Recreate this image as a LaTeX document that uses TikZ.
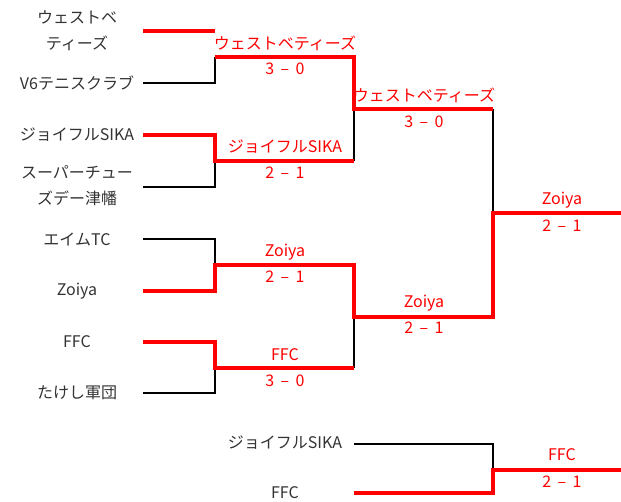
\documentclass[tikz,border=0pt]{standalone}
\usepackage{fontspec}
\newfontfamily\jp{Noto Sans CJK JP}
\definecolor{txt}{HTML}{333333}
\definecolor{win}{HTML}{FF0000}
\newcommand{\scr}[2]{#1\hspace{0.4em}–\hspace{0.4em}#2}
\begin{document}
\begin{tikzpicture}[x=0.75pt,y=-0.75pt,
  lose/.style={draw=black,line width=1.15pt},
  winline/.style={draw=win,line width=2.3pt},
  team/.style={font=\jp\fontsize{12}{14}\selectfont,text=txt,inner sep=0pt,anchor=center},
  res/.style={font=\jp\fontsize{12}{14}\selectfont,text=win,inner sep=0pt,anchor=center}]
\useasboundingbox (0,0) rectangle (621,501);
% coordinates
\coordinate (a1) at (143,31);  \coordinate (a1e) at (215,31);
\coordinate (a2) at (143,83);  \coordinate (a2e) at (215,83);
\coordinate (m1) at (215,57);  \coordinate (m1e) at (354,57);
\coordinate (b1) at (143,135); \coordinate (b1e) at (215,135);
\coordinate (b2) at (143,187); \coordinate (b2e) at (215,187);
\coordinate (m2) at (215,161); \coordinate (m2e) at (354,161);
\coordinate (s1) at (354,109); \coordinate (s1e) at (493,109);
\coordinate (c1) at (143,239); \coordinate (c1e) at (215,239);
\coordinate (c2) at (143,291); \coordinate (c2e) at (215,291);
\coordinate (m3) at (215,265); \coordinate (m3e) at (354,265);
\coordinate (d1) at (143,342); \coordinate (d1e) at (215,342);
\coordinate (d2) at (143,393); \coordinate (d2e) at (215,393);
\coordinate (m4) at (215,368); \coordinate (m4e) at (354,368);
\coordinate (s2) at (354,317); \coordinate (s2e) at (493,317);
\coordinate (f) at (493,213);  \coordinate (fe) at (621,213);
\coordinate (e1) at (354,444); \coordinate (e1e) at (493,444);
\coordinate (e2) at (354,493); \coordinate (e2e) at (493,493);
\coordinate (g) at (493,470);  \coordinate (ge) at (621,470);
% losers (black)
\draw[lose] (a2) -- (a2e) -- (m1);
\draw[lose] (b2) -- (b2e) -- (m2);
\draw[lose] (m2e) -- (s1);
\draw[lose] (s1e) -- (f);
\draw[lose] (c1) -- (c1e) -- (m3);
\draw[lose] (d2) -- (d2e) -- (m4);
\draw[lose] (m4e) -- (s2);
\draw[lose] (e1) -- (e1e) -- (g);
% winners (red)
\draw[winline] (a1) -- (a1e);
\draw[winline] (m1) -- (m1e) -- (s1) -- (s1e);
\draw[winline] (b1) -- (b1e) -- (m2) -- (m2e);
\draw[winline] (c2) -- (c2e) -- (m3) -- (m3e) -- (s2) -- (s2e) -- (f) -- (fe);
\draw[winline] (d1) -- (d1e) -- (m4) -- (m4e);
\draw[winline] (e2) -- (e2e) -- (g) -- (ge);
% team names
\node[team] (t1a) at (77,17) {ウェストベ};
\node[team] (t1b) at (77,43) {ティーズ};
\node[team] (t2) at (77,83) {V6テニスクラブ};
\node[team] (t3) at (77,135) {ジョイフルSIKA};
\node[team] (t4a) at (77,172) {スーパーチュー};
\node[team] (t4b) at (77,198) {ズデー津幡};
\node[team] (t5) at (77,239) {エイムTC};
\node[team] (t6) at (77,291) {Zoiya};
\node[team] (t7) at (77,342) {FFC};
\node[team] (t8) at (77,393) {たけし軍団};
\node[team] (t9) at (285,443) {ジョイフルSIKA};
\node[team] (t10) at (285,493) {FFC};
% results
\node[res] (w1) at (285,43) {ウェストベティーズ};
\node[res] (r1) at (285,69) {\scr{3}{0}};
\node[res] (w2) at (285,147) {ジョイフルSIKA};
\node[res] (r2) at (285,173) {\scr{2}{1}};
\node[res] (w3) at (285,252) {Zoiya};
\node[res] (r3) at (285,277) {\scr{2}{1}};
\node[res] (w4) at (285,355) {FFC};
\node[res] (r4) at (285,381) {\scr{3}{0}};
\node[res] (w5) at (424,95) {ウェストベティーズ};
\node[res] (r5) at (424,122) {\scr{3}{0}};
\node[res] (w6) at (424,303) {Zoiya};
\node[res] (r6) at (424,328) {\scr{2}{1}};
\node[res] (w7) at (562,200) {Zoiya};
\node[res] (r7) at (562,226) {\scr{2}{1}};
\node[res] (w8) at (562,455) {FFC};
\node[res] (r8) at (562,482) {\scr{2}{1}};
\end{tikzpicture}
\end{document}
